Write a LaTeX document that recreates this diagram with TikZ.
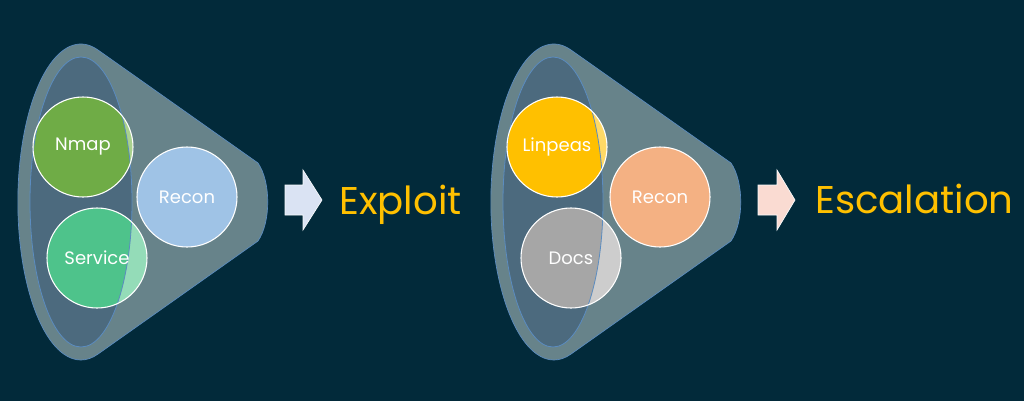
\documentclass[tikz,border=0pt]{standalone}
\usepackage{fontspec}
\setmainfont{Poppins}
\usetikzlibrary{shapes.geometric}

\definecolor{slidebg}{HTML}{022A3A}
\definecolor{funnelbody}{HTML}{67838A}
\definecolor{funnelin}{HTML}{4C6A7E}
\definecolor{funnelline}{HTML}{5B8CC0}
\definecolor{nmapdark}{HTML}{6FAC46}
\definecolor{nmaplight}{HTML}{A9D18E}
\definecolor{servicedark}{HTML}{4EC38B}
\definecolor{servicelight}{HTML}{94DCB8}
\definecolor{reconblue}{HTML}{9FC3E6}
\definecolor{linpeasdark}{HTML}{FFC000}
\definecolor{linpeaslight}{HTML}{FFD966}
\definecolor{reconpeach}{HTML}{F4B183}
\definecolor{docsdark}{HTML}{A6A6A6}
\definecolor{docslight}{HTML}{CDCDCD}
\definecolor{arrowblue}{HTML}{DAE3F3}
\definecolor{arrowpink}{HTML}{FADBD2}
\definecolor{stagegold}{HTML}{FFC000}

\begin{document}
\begin{tikzpicture}[
    x = 0.75pt, y = 0.75pt, % one unit = one pixel of the slide
    tool/.style = {circle, draw = white, line width = 0.8pt, minimum size = 75pt,
        inner sep = 0pt, text = white, font = \fontsize{13.5}{16}\selectfont},
    opening/.style = {ellipse, draw = funnelline, line width = 0.6pt, inner sep = 0pt,
        minimum height = 217.5pt},
    body/.style = {fill = funnelbody, draw = funnelline, line width = 0.5pt},
    blockarrow/.style = {draw = white!85!arrowblue, line width = 0.5pt},
    stage/.style = {anchor = base west, inner sep = 0pt, text = stagegold,
        font = \fontsize{29}{34}\selectfont}
    ]

    % background
    \fill[slidebg] (0,0) rectangle (1024,-401);

    % first funnel
    \draw[body] (98,-50) arc[start angle=74.2, end angle=285.8, x radius=63, y radius=158]
        -- (258,-241) .. controls (271,-222) and (271,-182) .. (258,-163) -- cycle;
    \fill[funnelin] (81,-202) ellipse [x radius=51, y radius=145];
    \coordinate (nmap-c) at (83,-147);
    \coordinate (recona-c) at (187,-197);
    \coordinate (service-c) at (97,-258);
    \fill[nmaplight] (nmap-c) circle (50);
    \fill[reconblue] (recona-c) circle (50);
    \fill[servicelight] (service-c) circle (50);
    \begin{scope}
        \clip (81,-202) ellipse [x radius=51, y radius=145];
        \fill[nmapdark] (nmap-c) circle (50);
        \fill[servicedark] (service-c) circle (50);
    \end{scope}
    \node[opening, minimum width=76.5pt] (open1) at (81,-202) {};
    \node[tool] (nmap) at (nmap-c) {Nmap};
    \node[tool] (recona) at (recona-c) {Recon};
    \node[tool] (service) at (service-c) {Service};

    \draw[blockarrow, fill=arrowblue] (285,-185) -- (303,-185) -- (303,-170) -- (322,-200)
        -- (303,-230) -- (303,-215) -- (285,-215) -- cycle;
    \node[stage] (exploit) at (339,-214) {Exploit};

    % second funnel
    \draw[body] (571,-50) arc[start angle=74.2, end angle=285.8, x radius=63, y radius=158]
        -- (731,-241) .. controls (744,-222) and (744,-182) .. (731,-163) -- cycle;
    \fill[funnelin] (553,-202) ellipse [x radius=50, y radius=145];
    \coordinate (linpeas-c) at (557,-147);
    \coordinate (reconb-c) at (660,-197);
    \coordinate (docs-c) at (571,-258);
    \fill[linpeaslight] (linpeas-c) circle (50);
    \fill[reconpeach] (reconb-c) circle (50);
    \fill[docslight] (docs-c) circle (50);
    \begin{scope}
        \clip (553,-202) ellipse [x radius=50, y radius=145];
        \fill[linpeasdark] (linpeas-c) circle (50);
        \fill[docsdark] (docs-c) circle (50);
    \end{scope}
    \node[opening, minimum width=75pt] (open2) at (553,-202) {};
    \node[tool] (linpeas) at (linpeas-c) {Linpeas};
    \node[tool] (reconb) at (reconb-c) {Recon};
    \node[tool] (docs) at (docs-c) {Docs};

    \draw[blockarrow, fill=arrowpink] (758,-185) -- (777,-185) -- (777,-170) -- (795,-200)
        -- (777,-230) -- (777,-215) -- (758,-215) -- cycle;
    \node[stage] (escalation) at (815,-213) {Escalation};
\end{tikzpicture}
\end{document}
